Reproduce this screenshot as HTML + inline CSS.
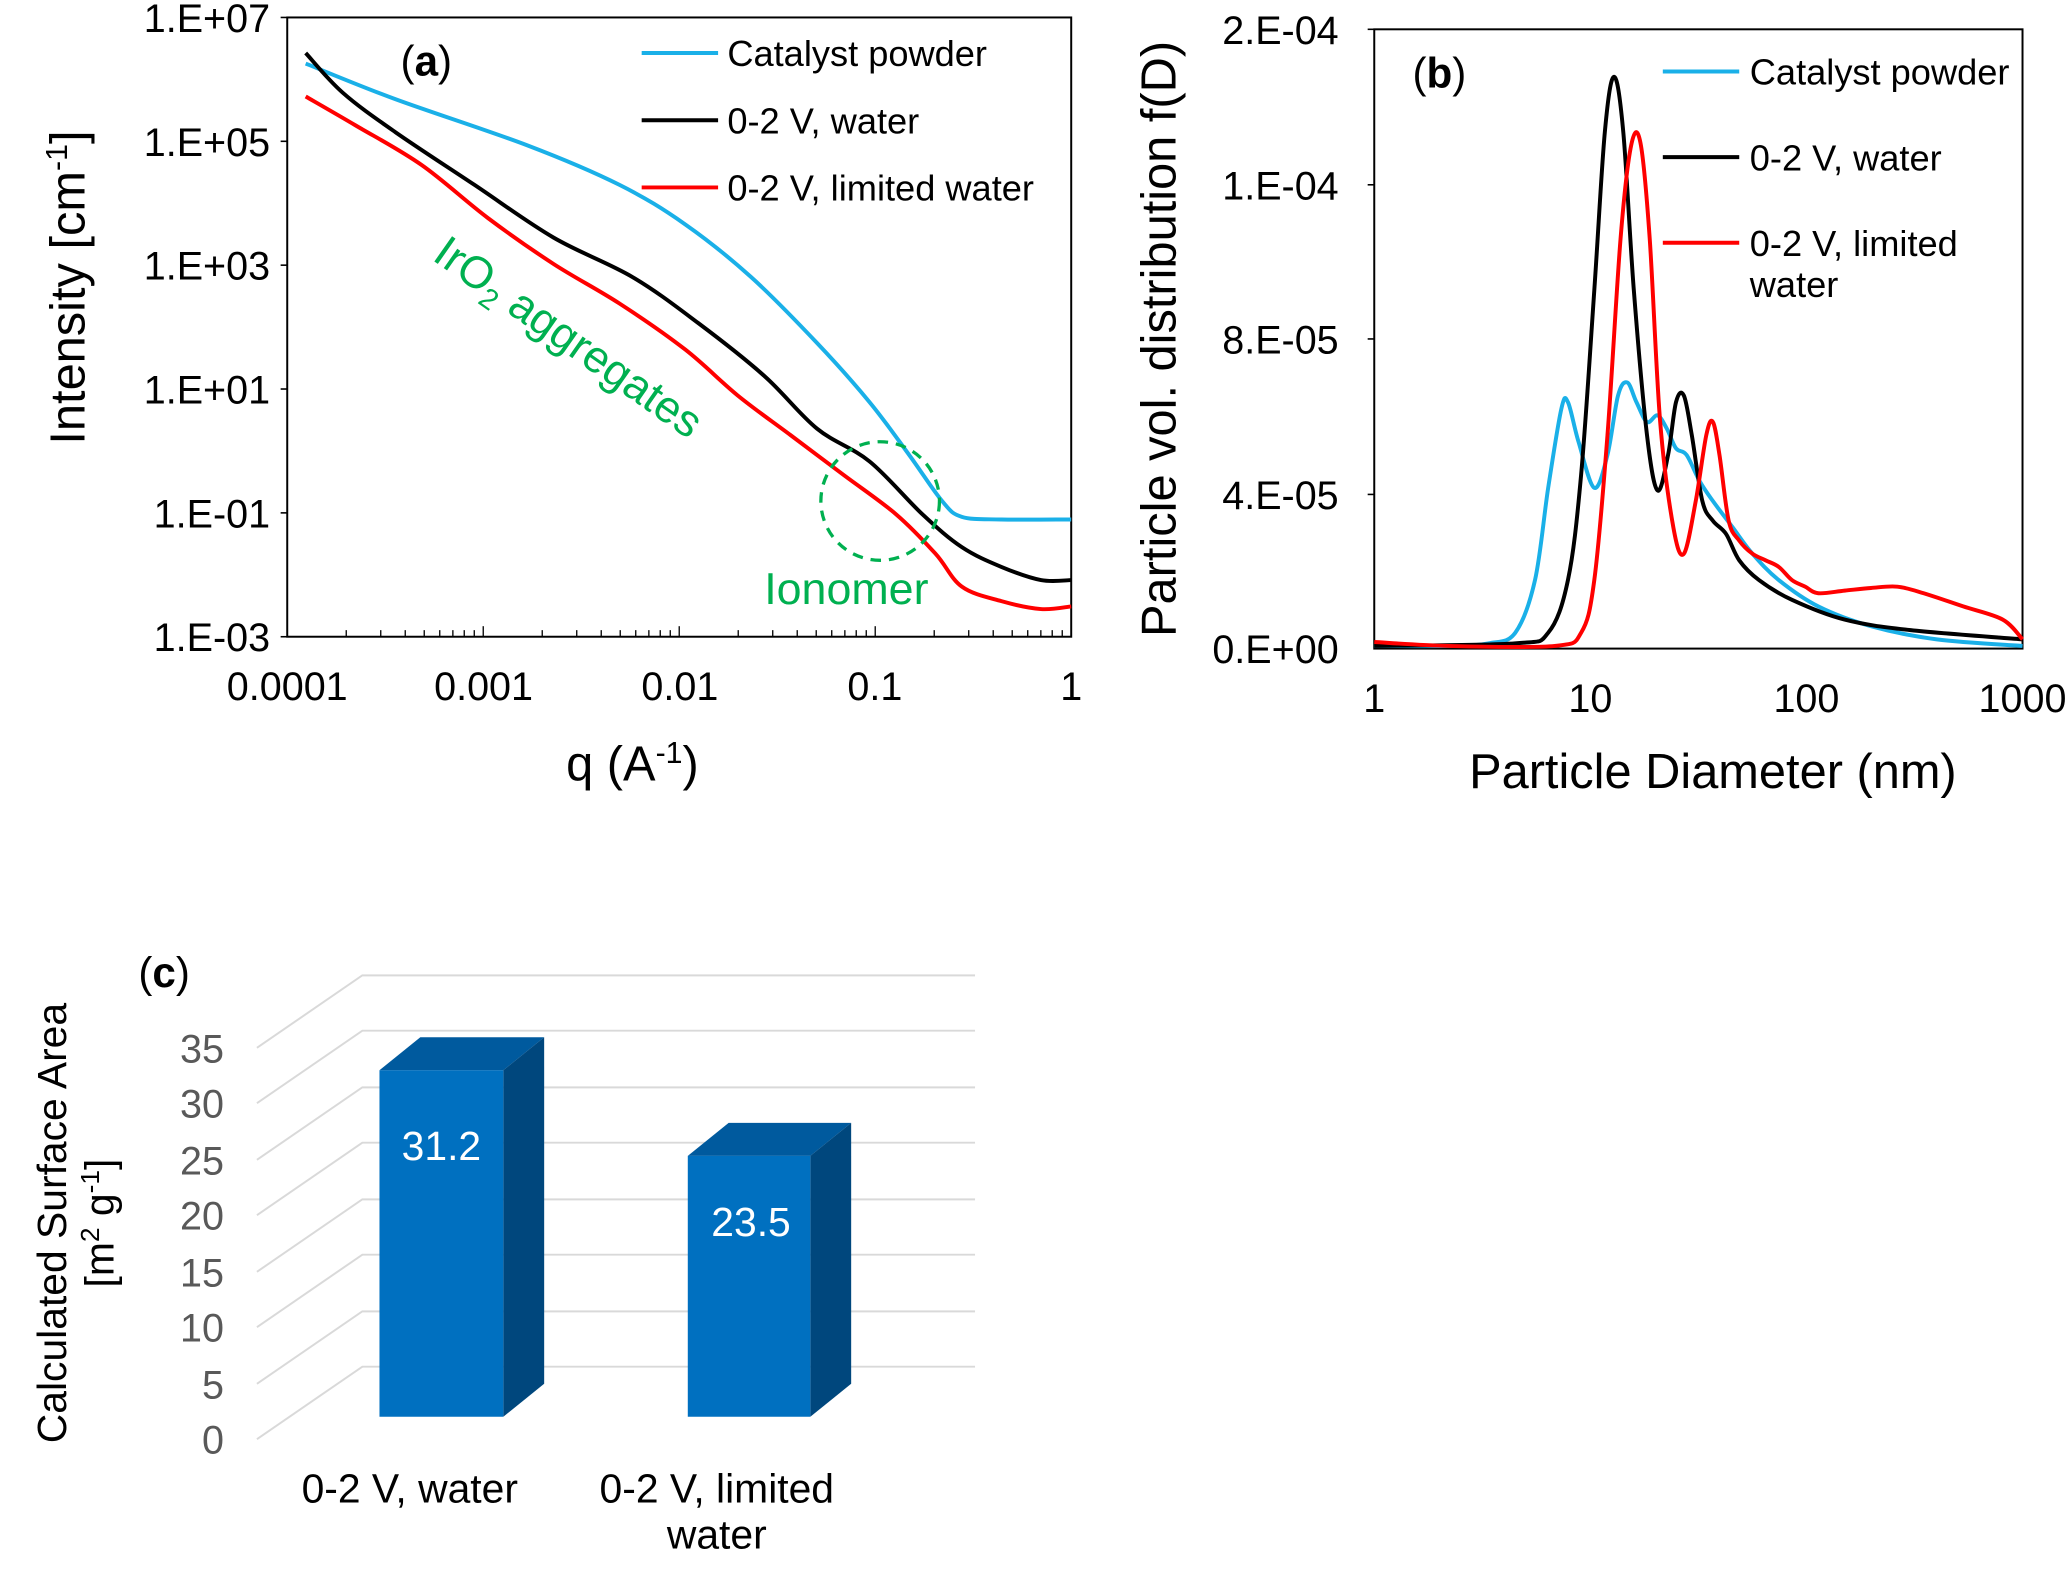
<!DOCTYPE html>
<html><head><meta charset="utf-8"><style>html,body{margin:0;padding:0;background:#fff}svg{display:block}</style></head>
<body>
<svg width="2066" height="1591" viewBox="0 0 1568 1207" xmlns="http://www.w3.org/2000/svg" font-family="Liberation Sans, Arial, sans-serif">
<!-- Panel a -->
<rect x="218" y="13" width="595" height="470" fill="none" stroke="#000" stroke-width="1.5"/>
<g stroke="#000" stroke-width="1.2">
<line x1="213" y1="13" x2="218" y2="13"/><line x1="213" y1="107" x2="218" y2="107"/><line x1="213" y1="201" x2="218" y2="201"/><line x1="213" y1="295" x2="218" y2="295"/><line x1="213" y1="389" x2="218" y2="389"/><line x1="213" y1="483" x2="218" y2="483"/>
</g>
<g id="mt" stroke="#000" stroke-width="1"></g>
<g font-size="30" text-anchor="end" fill="#000">
<text x="205" y="24">1.E+07</text><text x="205" y="118">1.E+05</text><text x="205" y="212">1.E+03</text><text x="205" y="306">1.E+01</text><text x="205" y="400">1.E-01</text><text x="205" y="494">1.E-03</text>
</g>
<g font-size="30" text-anchor="middle">
<text x="218" y="531">0.0001</text><text x="367" y="531">0.001</text><text x="516" y="531">0.01</text><text x="664" y="531">0.1</text><text x="813" y="531">1</text>
</g>
<text transform="translate(64,218) rotate(-90)" font-size="37" text-anchor="middle">Intensity [cm<tspan font-size="23" dy="-13">-1</tspan><tspan dy="13">]</tspan></text>
<text x="480" y="592" font-size="37" text-anchor="middle">q (A<tspan font-size="23" dy="-13">-1</tspan><tspan dy="13">)</tspan></text>
<g fill="none" stroke-width="3" stroke-linejoin="round" class="sm">
<polyline stroke="#1ab0e8" points="232,48 300,75 400,110 470,140 520,170 570,210 620,260 660,305 690,345 715,380 730,392 760,394 813,394"/>
<polyline stroke="#000" points="232,40 260,70 300,100 360,140 420,180 480,210 530,245 580,285 620,325 660,350 700,390 730,415 760,430 790,440 813,440"/>
<polyline stroke="#ff0000" points="232,73 270,95 320,125 370,165 420,200 470,230 520,265 560,300 600,330 640,360 680,390 710,420 730,445 760,456 790,462 813,460"/>
</g>
<circle cx="668" cy="380" r="45" fill="none" stroke="#00b050" stroke-width="2.5" stroke-dasharray="8,6"/>
<text x="425" y="265" font-size="34" fill="#00b050" text-anchor="middle" transform="rotate(35 425 265)">IrO<tspan font-size="22" dy="7">2</tspan><tspan dy="-7"> aggregates</tspan></text>
<text x="580" y="458" font-size="34" fill="#00b050">Ionomer</text>
<text x="304" y="57" font-size="32">(<tspan font-weight="bold">a</tspan>)</text>
<g stroke-width="3"><line x1="487" y1="40" x2="545" y2="40" stroke="#1ab0e8"/><line x1="487" y1="91" x2="545" y2="91" stroke="#000"/><line x1="487" y1="142" x2="545" y2="142" stroke="#ff0000"/></g>
<g font-size="27.5"><text x="552" y="50">Catalyst powder</text><text x="552" y="101">0-2 V, water</text><text x="552" y="152">0-2 V, limited water</text></g>

<!-- Panel b -->
<rect x="1043" y="22" width="492" height="470" fill="none" stroke="#000" stroke-width="1.5"/>
<g font-size="30" text-anchor="end">
<text x="1016" y="33">2.E-04</text><text x="1016" y="151">1.E-04</text><text x="1016" y="268">8.E-05</text><text x="1016" y="386">4.E-05</text><text x="1016" y="503">0.E+00</text>
</g>
<g stroke="#000" stroke-width="1.2"><line x1="1038" y1="22" x2="1043" y2="22"/><line x1="1038" y1="140" x2="1043" y2="140"/><line x1="1038" y1="257" x2="1043" y2="257"/><line x1="1038" y1="375" x2="1043" y2="375"/></g>
<g font-size="30" text-anchor="middle"><text x="1043" y="540">1</text><text x="1207" y="540">10</text><text x="1371" y="540">100</text><text x="1535" y="540">1000</text></g>
<text transform="translate(892,257) rotate(-90)" font-size="37" text-anchor="middle">Particle vol. distribution f(D)</text>
<text x="1300" y="598" font-size="37" text-anchor="middle">Particle Diameter (nm)</text>
<g fill="none" stroke-width="3" stroke-linejoin="round" class="sm">
<polyline stroke="#1ab0e8" points="1043,490 1100,490 1130,488 1150,480 1165,440 1175,370 1185,310 1190,305 1198,335 1210,370 1220,345 1228,300 1235,290 1242,305 1250,320 1258,315 1265,325 1272,340 1280,345 1290,365 1300,380 1315,400 1330,420 1350,440 1380,460 1420,475 1470,485 1535,490"/>
<polyline stroke="#000" points="1043,490 1150,488 1175,480 1190,440 1200,360 1210,220 1218,100 1225,58 1232,100 1240,220 1250,330 1258,372 1266,345 1272,305 1278,300 1284,330 1292,380 1300,395 1310,405 1320,425 1335,440 1360,455 1400,470 1450,478 1535,485"/>
<polyline stroke="#ff0000" points="1043,487 1100,490 1180,490 1200,480 1210,440 1220,330 1230,180 1238,110 1245,108 1252,180 1260,320 1270,400 1278,420 1287,380 1295,330 1300,320 1305,345 1312,395 1320,410 1330,420 1340,425 1350,430 1360,440 1370,445 1380,450 1400,448 1420,446 1440,445 1460,450 1490,460 1520,470 1535,485"/>
</g>
<text x="1072" y="66" font-size="32">(<tspan font-weight="bold">b</tspan>)</text>
<g stroke-width="3"><line x1="1262" y1="54" x2="1320" y2="54" stroke="#1ab0e8"/><line x1="1262" y1="119" x2="1320" y2="119" stroke="#000"/><line x1="1262" y1="184" x2="1320" y2="184" stroke="#ff0000"/></g>
<g font-size="27.5"><text x="1328" y="64">Catalyst powder</text><text x="1328" y="129">0-2 V, water</text><text x="1328" y="194">0-2 V, limited</text><text x="1328" y="225">water</text></g>

<!-- Panel c -->
<g stroke="#d9d9d9" stroke-width="1.5" fill="none">
<polyline points="195,1092 275,1037 740,1037"/><polyline points="195,1050 275,995 740,995"/><polyline points="195,1007 275,952 740,952"/><polyline points="195,965 275,910 740,910"/><polyline points="195,922 275,867 740,867"/><polyline points="195,880 275,825 740,825"/><polyline points="195,837 275,782 740,782"/><polyline points="195,795 275,740 740,740"/>
</g>
<g font-size="30" fill="#595959" text-anchor="end">
<text x="170" y="1103">0</text><text x="170" y="1061">5</text><text x="170" y="1018">10</text><text x="170" y="976">15</text><text x="170" y="933">20</text><text x="170" y="891">25</text><text x="170" y="848">30</text><text x="170" y="806">35</text>
</g>
<polygon points="288,812 382,812 413,787 319,787" fill="#005a9e"/>
<polygon points="382,812 413,787 413,1050 382,1075" fill="#00477d"/>
<rect x="288" y="812" width="94" height="263" fill="#0070c0"/>
<polygon points="522,877 615,877 646,852 553,852" fill="#005a9e"/>
<polygon points="615,877 646,852 646,1050 615,1075" fill="#00477d"/>
<rect x="522" y="877" width="93" height="198" fill="#0070c0"/>
<text x="335" y="880" font-size="31" fill="#fff" text-anchor="middle">31.2</text>
<text x="570" y="938" font-size="31" fill="#fff" text-anchor="middle">23.5</text>
<g font-size="31" text-anchor="middle">
<text x="311" y="1140">0-2 V, water</text><text x="544" y="1140">0-2 V, limited</text><text x="544" y="1175">water</text>
</g>
<text transform="translate(50,928) rotate(-90)" font-size="31" text-anchor="middle">Calculated Surface Area</text>
<text transform="translate(86,928) rotate(-90)" font-size="31" text-anchor="middle">[m<tspan font-size="20" dy="-11">2</tspan><tspan dy="11"> g</tspan><tspan font-size="20" dy="-11">-1</tspan><tspan dy="11">]</tspan></text>
<text x="105" y="749" font-size="32">(<tspan font-weight="bold">c</tspan>)</text>
</svg>
<script>
(function(){var g=document.getElementById('mt'),s='';for(var d=0;d<4;d++){for(var k=2;k<=9;k++){var x=218+148.75*(d+Math.log10(k));s+='<line x1="'+x+'" y1="483" x2="'+x+'" y2="478"/>';}}
for(var d=0;d<=4;d++){var x=218+148.75*d;s+='<line x1="'+x+'" y1="483" x2="'+x+'" y2="475"/>';}
g.innerHTML=s;
// smooth polylines (Catmull-Rom)
document.querySelectorAll('.sm polyline').forEach(function(pl){
 var p=pl.getAttribute('points').trim().split(/\s+/).map(function(a){return a.split(',').map(Number);});
 var d='M'+p[0][0]+','+p[0][1];
 for(var i=0;i<p.length-1;i++){var p0=p[i-1]||p[i],p1=p[i],p2=p[i+1],p3=p[i+2]||p2;
  var c1=[p1[0]+(p2[0]-p0[0])/6,p1[1]+(p2[1]-p0[1])/6],c2=[p2[0]-(p3[0]-p1[0])/6,p2[1]-(p3[1]-p1[1])/6];
  d+=' C'+c1[0]+','+c1[1]+' '+c2[0]+','+c2[1]+' '+p2[0]+','+p2[1];}
 var path=document.createElementNS('http://www.w3.org/2000/svg','path');
 path.setAttribute('d',d);path.setAttribute('stroke',pl.getAttribute('stroke'));
 pl.parentNode.replaceChild(path,pl);});
})();
</script>
</body></html>
